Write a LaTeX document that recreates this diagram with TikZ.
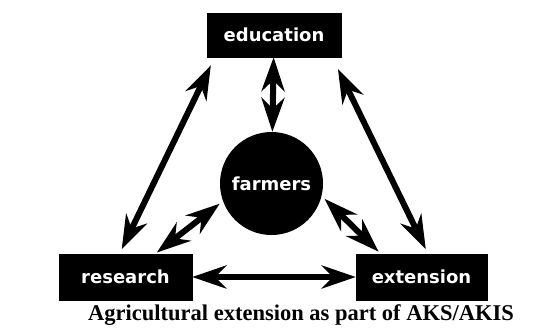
\documentclass[tikz,border=0pt]{standalone}
\usepackage{fontspec}
\setmainfont{Liberation Serif}
\newfontfamily\boxfont{DejaVu Sans}
\usetikzlibrary{arrows.meta}
\begin{document}
\begin{tikzpicture}[x=1pt, y=-1pt,
    box/.style={draw, fill=black, text=white, inner sep=0pt, minimum width=133pt, minimum height=46pt, font=\boxfont\bfseries\fontsize{18}{22}\selectfont},
    hub/.style={circle, fill=black, text=white, inner sep=0pt, minimum size=103pt, font=\boxfont\bfseries\fontsize{18}{22}\selectfont},
    arrow/.style={{Stealth[length=34pt,width=23pt,inset=11pt]}-{Stealth[length=34pt,width=23pt,inset=11pt]}, line width=6pt}
]
    \useasboundingbox (0,0) rectangle (535,327);
    \node[box, minimum width=134pt, minimum height=44pt] (edu) at (274, 35) {education};
    \node[box] (res) at (125.5, 277) {research};
    \node[box, minimum width=131pt] (ext) at (421.5, 277) {extension};
    \node[hub] (farm) at (271.5, 183.5) {farmers};

    \draw[arrow] (edu) -- (farm);
    \draw[arrow, shorten <=9pt, shorten >=5pt] ([xshift=8pt]edu.south west) -- ([xshift=-6pt]res.north);
    \draw[arrow, shorten <=13pt, shorten >=5pt] ([xshift=-9pt]edu.south east) -- ([xshift=6.5pt]ext.north);
    \draw[arrow, shorten <=4pt, shorten >=2pt] (farm.200) -- ([xshift=-37pt]res.north east);
    \draw[arrow, shorten <=4pt, shorten >=3pt] (farm.346) -- ([xshift=25pt]ext.north west);
    \draw[arrow] (res) -- (ext);

    % caption
    \node[anchor=base, font=\bfseries\fontsize{22.5}{24}\selectfont] (cap) at (301, 320.5) {Agricultural extension as part of AKS/AKIS};
\end{tikzpicture}
\end{document}
